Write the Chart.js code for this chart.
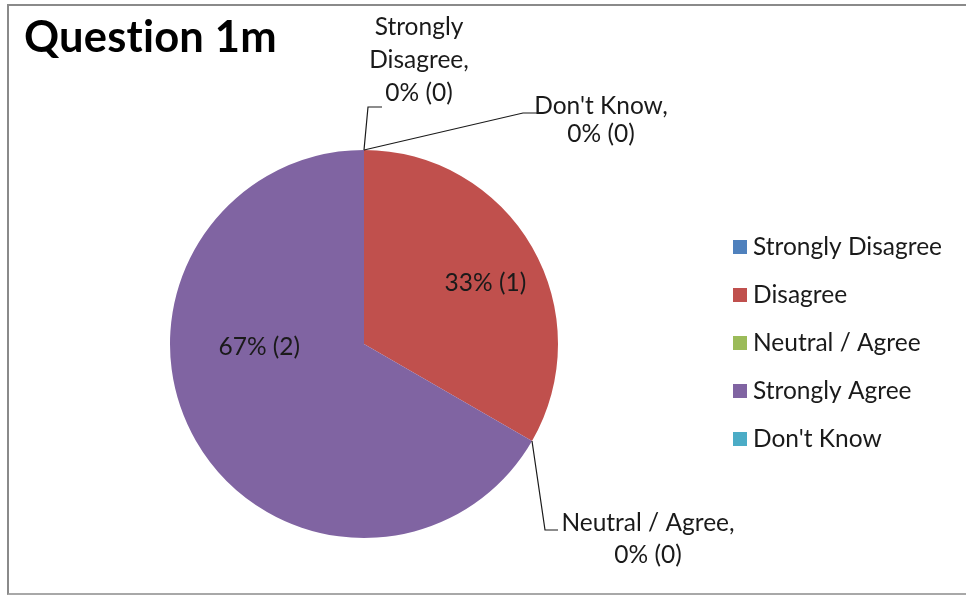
<!DOCTYPE html>
<html>
<head>
<meta charset="utf-8">
<script src="https://cdn.jsdelivr.net/npm/chart.js@4/dist/chart.umd.min.js"></script>
<style>
  html, body { margin: 0; padding: 0; background: #fff; overflow: hidden; }
  #wrap { position: relative; width: 966px; height: 599px; overflow: hidden; }
  #frame { position: absolute; left: 7px; top: 4px; width: 1000px; height: 591px; border: 2px solid #8a8a8a; border-bottom-color: #a8a8a8; box-sizing: border-box; }
  canvas { position: absolute; left: 0; top: 0; }
</style>
</head>
<body>
<div id="wrap">
  <div id="frame"></div>
  <canvas id="c" width="966" height="599"></canvas>
</div>
<script>
const title = "Question 1m";
const categories = ["Strongly Disagree", "Disagree", "Neutral / Agree", "Strongly Agree", "Don't Know"];
const counts = [0, 1, 0, 2, 0];
const sliceColors = ["#4F81BD", "#C0504D", "#9BBB59", "#8064A2", "#4BACC6"];

const total = counts.reduce((a, b) => a + b, 0);
const pctText = counts.map(v => Math.round(v * 100 / total) + "% (" + v + ")");

// label placement styles (relative to slice geometry)
const insidePlacement = { 1: { angleOffset: 3.4, rFrac: 0.70 }, 3: { angleOffset: 28.4, rFrac: 0.54 } };
const outsidePlacement = {
  0: { elbow: [4, -43], end: [18, -43], textX: 55, lines: [-123, -90, -57], text: ["Strongly", "Disagree,"] },
  2: { elbow: [13, 89], end: [26, 89], textX: 116, lines: [82, 114], text: ["Neutral / Agree,"] },
  4: { elbow: [159, -37], end: [173, -37], textX: 237, lines: [-44, -16], text: ["Don't Know,"] }
};

const FONT = "Lato, 'Open Sans', sans-serif";
const TEXT_SIZE = 24.5;

const labelPlugin = {
  id: 'excelLabels',
  afterDatasetsDraw(chart) {
    const ctx = chart.ctx;
    const meta = chart.getDatasetMeta(0);
    ctx.save();
    // title
    ctx.fillStyle = "#000";
    ctx.font = "bold 43.5px " + FONT;
    ctx.letterSpacing = "0.2px";
    ctx.textBaseline = "alphabetic";
    ctx.textAlign = "left";
    ctx.fillText(title, 24, 52);
    ctx.letterSpacing = "0px";

    ctx.font = TEXT_SIZE + "px " + FONT;
    ctx.textBaseline = "middle";
    ctx.textAlign = "center";
    meta.data.forEach((arc, i) => {
      const p = arc.getProps(['x', 'y', 'startAngle', 'endAngle', 'outerRadius'], true);
      if (counts[i] > 0) {
        const pl = insidePlacement[i] || { angleOffset: 0, rFrac: 0.6 };
        const a = (p.startAngle + p.endAngle) / 2 + pl.angleOffset * Math.PI / 180;
        const r = p.outerRadius * pl.rFrac;
        ctx.fillStyle = "#1a1a1a";
        ctx.fillText(pctText[i], p.x + r * Math.cos(a), p.y + r * Math.sin(a));
      } else {
        const pl = outsidePlacement[i];
        const ax = p.x + p.outerRadius * Math.cos(p.startAngle);
        const ay = p.y + p.outerRadius * Math.sin(p.startAngle);
        ctx.strokeStyle = "#1a1a1a";
        ctx.lineWidth = 1.2;
        ctx.beginPath();
        ctx.moveTo(ax, ay);
        ctx.lineTo(ax + pl.elbow[0], ay + pl.elbow[1]);
        ctx.lineTo(ax + pl.end[0], ay + pl.end[1]);
        ctx.stroke();
        const lines = pl.text.concat([pctText[i]]);
        ctx.fillStyle = "#1a1a1a";
        lines.forEach((t, k) => ctx.fillText(t, ax + pl.textX, ay + pl.lines[k]));
      }
    });

    // legend
    ctx.textAlign = "left";
    ctx.font = TEXT_SIZE + "px " + FONT;
    categories.forEach((c, i) => {
      const cy = 247 + i * 48;
      ctx.fillStyle = sliceColors[i];
      ctx.fillRect(733, cy - 7, 14, 14);
      ctx.fillStyle = "#1a1a1a";
      ctx.fillText(c, 753, cy);
    });
    ctx.restore();
  }
};

new Chart(document.getElementById('c'), {
  type: 'pie',
  data: {
    labels: categories,
    datasets: [{ data: counts, backgroundColor: sliceColors, borderWidth: 0 }]
  },
  options: {
    responsive: false,
    animation: false,
    layout: { padding: { left: 170, right: 408, top: 150, bottom: 61 } },
    plugins: { legend: { display: false }, tooltip: { enabled: false } }
  },
  plugins: [labelPlugin]
});
</script>
</body>
</html>
